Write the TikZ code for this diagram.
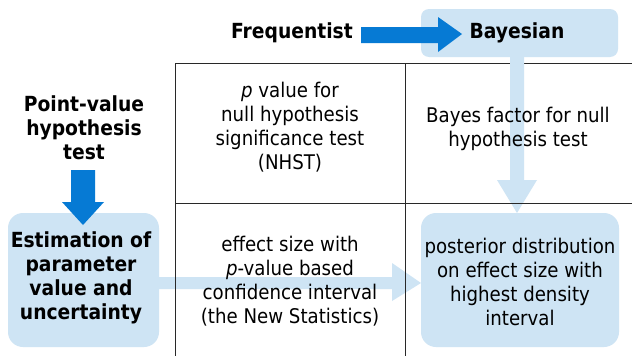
\documentclass[tikz,border=0pt]{standalone}
\usepackage{fontspec}
\setmainfont{DejaVu Sans Condensed}
\begin{document}
\begin{tikzpicture}[x=1pt,y=-1pt,
  every node/.style={inner sep=0pt,align=center,font=\fontsize{20.2}{24}\selectfont},
  bold/.style={font=\fontsize{20.8}{24}\selectfont\bfseries},
  lightbox/.style={fill=lightblue,draw=none,rounded corners=15pt},
  gridline/.style={draw=gridgray,line width=1pt},
]
\definecolor{lightblue}{RGB}{206,228,244}
\definecolor{darkblue}{RGB}{6,122,212}
\definecolor{gridgray}{RGB}{40,40,40}
\useasboundingbox (0,0) rectangle (632,356);
\fill[white] (0,0) rectangle (632,356);

% grid, top line
\coordinate (tl) at (175,63);
\coordinate (tr) at (632,63);
\draw[gridline] (tl) -- (tr);

% boxes
\path[lightbox,rounded corners=8pt] (421,9) rectangle (618,57);
\coordinate (bayesbot) at (517,57);
\path[lightbox] (8,213) rectangle (159,347);
\path[lightbox] (421,213) rectangle (619,347);
\coordinate (estright) at (159,283);
\coordinate (postleft) at (421,283);
\coordinate (posttop) at (517,213);

% light arrows
\fill[lightblue] (510,57) -- (524,57) -- (524,180) -- (537,180) -- (posttop) -- (497,180) -- (510,180) -- cycle;
\fill[lightblue] (estright) ++(0,-6) -- (392,277) -- (392,263) -- (postleft) -- (392,301) -- (392,289) -- (159,289) -- cycle;

% dark arrows
\fill[darkblue] (361,27) -- (438,27) -- (438,17) -- (462,34) -- (438,52) -- (438,43) -- (361,43) -- cycle;
\fill[darkblue] (71,170) -- (95,170) -- (95,202) -- (104,202) -- (83,225) -- (62,202) -- (71,202) -- cycle;

% remaining grid lines
\coordinate (ml) at (175,203);
\coordinate (mr) at (632,203);
\coordinate (c1t) at (175,63);
\coordinate (c1b) at (175,356);
\coordinate (c2t) at (405,63);
\coordinate (c2b) at (405,356);
\draw[gridline] (ml) -- (mr);
\draw[gridline] (c1t) -- (c1b);
\draw[gridline] (c2t) -- (c2b);

% texts
\node[bold] (freq) at (292,33) {Frequentist};
\node[bold] (bayes) at (517,33) {Bayesian};
\node[bold] (point) at (84,128) {Point-value\\hypothesis\\test};
\node[bold] (est) at (81,278) {Estimation of\\parameter\\value and\\uncertainty};
\node (nhst) at (290,127) {\textit{p} value for\\null hypothesis\\significance test\\(NHST)};
\node (bf) at (518,129) {Bayes factor for null\\hypothesis test};
\node (es) at (290,281) {effect size with\\\textit{p}-value based\\confidence interval\\(the New Statistics)};
\node (post) at (520,282) {posterior distribution\\on effect size with\\highest density\\interval};
\end{tikzpicture}
\end{document}
